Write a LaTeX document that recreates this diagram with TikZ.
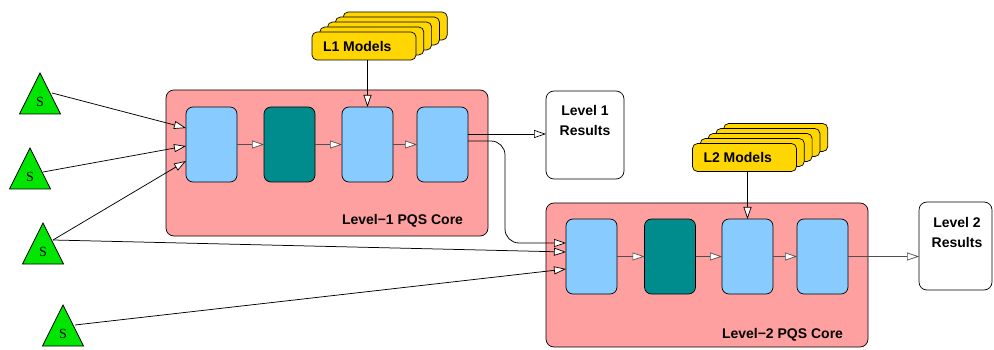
\documentclass[tikz,border=0pt]{standalone}
\usepackage{fontspec}
\setmainfont{Liberation Sans}
\newfontfamily\serifS{Liberation Serif}
\usetikzlibrary{arrows.meta,shapes.geometric,calc}
\definecolor{corepink}{RGB}{255,160,160}
\definecolor{boxblue}{RGB}{136,204,255}
\definecolor{boxteal}{RGB}{0,140,140}
\definecolor{modyellow}{RGB}{255,214,0}
\definecolor{srcgreen}{RGB}{0,230,0}
\definecolor{lgray}{RGB}{80,80,80}
\begin{document}
\begin{tikzpicture}[x=1pt,y=-1pt,
  every node/.style={inner sep=0pt,outer sep=0pt},
  lbl/.style={font=\bfseries\fontsize{14}{20}\selectfont},
  core/.style={draw=black,fill=corepink,rounded corners=8pt,line width=0.7pt,minimum width=322pt},
  pbox/.style={draw=black,fill=boxblue,rounded corners=7pt,line width=0.7pt,minimum width=51pt,minimum height=75pt},
  tbox/.style={pbox,fill=boxteal},
  model/.style={draw=black,fill=modyellow,rounded corners=5pt,line width=0.7pt,minimum width=104pt,minimum height=28pt},
  resbox/.style={draw=black,fill=white,rounded corners=8pt,line width=0.7pt,minimum height=88pt},
  src/.style={isosceles triangle,isosceles triangle stretches,shape border rotate=90,
    minimum width=41pt,minimum height=41pt,fill=srcgreen,draw=black,line width=0.7pt,
    font=\serifS\fontsize{14}{14}\selectfont},
  arr/.style={line width=0.75pt,-{Triangle[fill=white,length=12pt,width=8pt,line width=0.7pt]}},
  garr/.style={arr,draw=lgray}
]
\useasboundingbox (0,0) rectangle (994,350);

% cores
\node[core,minimum height=146pt] (c1) at (327,163) {};
\node[core,minimum height=144pt] (c2) at (707,275) {};
\node[lbl,anchor=base east] (c1t) at ([shift={(-25,-11)}]c1.south east) {Level−1 PQS Core};
\node[lbl,anchor=base east] (c2t) at ([shift={(-25,-9)}]c2.south east) {Level−2 PQS Core};

% level-1 processing boxes
\node[pbox] (a1) at (211.5,144.5) {};
\node[tbox] (a2) at (289.5,144.5) {};
\node[pbox] (a3) at (367.5,144.5) {};
\node[pbox] (a4) at (442.5,144.5) {};
% level-2 processing boxes
\node[pbox] (b1) at (591.5,256.5) {};
\node[tbox] (b2) at (670,256.5) {};
\node[pbox] (b3) at (747.5,256.5) {};
\node[pbox] (b4) at (822.5,256.5) {};

\draw[garr] (a1) -- (a2);
\draw[garr] (a2) -- (a3);
\draw[garr] (a3) -- (a4);
\draw[garr] (b1) -- (b2);
\draw[garr] (b2) -- (b3);
\draw[garr] (b3) -- (b4);

% models stacks
\foreach \k in {4,3,2,1} {
  \node[model] (m1s\k) at ({364+7.8*\k},{46-5*\k}) {};
}
\node[model] (m1) at (364,46) {};
\node[lbl,anchor=west] (m1t) at ([xshift=11pt]m1.west) {L1 Models};
\foreach \k in {4,3,2,1} {
  \node[model] (m2s\k) at ({744.5+7.8*\k},{157.5-5*\k}) {};
}
\node[model] (m2) at (744.5,157.5) {};
\node[lbl,anchor=west] (m2t) at ([xshift=11pt]m2.west) {L2 Models};
\draw[arr] (a3.north |- m1.south) -- (a3.north);
\draw[arr] (b3.north |- m2.south) -- (b3.north);

% results
\node[resbox,minimum width=78pt] (r1) at (585,135) {};
\node[lbl,align=center] (r1t) at (585,120) {Level 1\\Results};
\node[resbox,minimum width=73pt] (r2) at (955.5,246) {};
\node[lbl,align=center] (r2t) at (957,232.5) {Level 2\\Results};

\coordinate (p1) at ([yshift=10.5pt]a4.east);
\draw[arr] (p1) -- (p1 -| r1.west);
\coordinate (p2) at ([yshift=3.5pt]a4.east);
\coordinate (q2) at ([yshift=13.5pt]b1.west);
\draw[arr,rounded corners=14pt] (p2) -- ++(37,0) |- (q2);
\draw[garr] (b4) -- (b4 -| r2.west);

% sources
\node[src,anchor=apex] (s1) at (40,73) {S};
\node[src,anchor=apex] (s2) at (30,148) {S};
\node[src,anchor=apex] (s3) at (43,223) {S};
\node[src,anchor=apex] (s4) at (63,305) {S};

\draw[arr] ([shift={(12,20)}]s1.apex) -- ([yshift=16.5pt]a1.west);
\draw[arr] ([shift={(13,24)}]s2.apex) -- ([yshift=-1.5pt]a1.west);
\draw[arr] ([shift={(10,17)}]s3.apex) -- ([yshift=-16.5pt]a1.west);
\draw[arr] ([shift={(10,17)}]s3.apex) -- ([yshift=4.5pt]b1.west);
\draw[arr] ([shift={(12,20)}]s4.apex) -- ([yshift=-12.5pt]b1.west);
\end{tikzpicture}
\end{document}
